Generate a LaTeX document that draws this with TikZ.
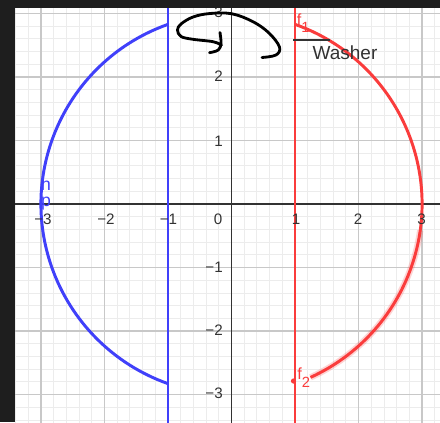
\documentclass[tikz,border=0pt]{standalone}
\usepackage{fontspec}
\setmainfont{Liberation Sans}
\definecolor{ggblue}{RGB}{64,64,250}
\definecolor{ggred}{RGB}{250,60,60}
\definecolor{gridminor}{RGB}{236,236,236}
\definecolor{gridmajor}{RGB}{200,200,200}
\definecolor{axisgray}{RGB}{50,50,50}
\definecolor{framedark}{RGB}{30,30,30}
\tikzset{
  minorline/.style={draw=gridminor, line width=0.6pt},
  majorline/.style={draw=gridmajor, line width=0.9pt},
  axisline/.style={draw=axisgray, line width=1.3pt},
  ticklab/.style={inner sep=0pt, text=axisgray, font=\fontsize{10.8}{12}\selectfont},
  blueline/.style={draw=ggblue, line width=2.1pt},
  redline/.style={draw=ggred, line width=2.1pt},
  scribble/.style={draw=black, line width=2pt, line cap=round, line join=round},
  graylab/.style={inner sep=0pt, text=axisgray, font=\fontsize{13.5}{15}\selectfont},
  redlab/.style={inner sep=0pt, text=ggred, font=\fontsize{11.5}{13}\selectfont},
  bluelab/.style={inner sep=0pt, text=ggblue, font=\fontsize{12.5}{13}\selectfont}
}
\begin{document}
\begin{tikzpicture}[x=0.025cm, y=-0.025cm]
\useasboundingbox (0,0) rectangle (440,422);
\fill[white] (0,0) rectangle (440,422);
\begin{scope}[shift={(231.5,204)}, x=1.5875cm, y=1.5875cm]
  % minor grid
  \foreach \i in {-17,...,16} \draw[minorline] (\i/5,-3.44) -- (\i/5,3.1);
  \foreach \j in {-17,...,15} \draw[minorline] (-3.41,\j/5) -- (3.29,\j/5);
  % major grid
  \foreach \i in {-3,...,3} \draw[majorline] (\i,-3.44) -- (\i,3.1);
  \foreach \j in {-3,...,3} \draw[majorline] (-3.41,\j) -- (3.29,\j);
  % axes
  \draw[axisline] (-3.41,0) -- (3.29,0);
  \draw[axisline] (0,-3.44) -- (0,3.1);
  % blue
  \draw[blueline] (-1,-3.44) -- (-1,3.1);
  \draw[blueline] (109.47:3) arc[start angle=109.47, end angle=250.53, radius=3];
  % red
  \draw[draw=ggred, opacity=0.22, line width=4.5pt] (-8:3) arc[start angle=-8, end angle=-65.5, radius=3];
  \draw[redline] (1,-3.44) -- (1,3.1);
  \draw[redline] (70.53:3) arc[start angle=70.53, end angle=-65.5, radius=3];
\end{scope}
% red point
\fill[ggred] (293.5,381) circle (2.6);
% washer segment
\coordinate (w1) at (293,40);
\coordinate (w2) at (330,40);
\draw[draw=axisgray, line width=1.5pt] (w1) -- (w2);
\node[graylab] (washer) at (345,52.5) {Washer};
% labels on curves
\node[redlab, anchor=base west] (f1) at (296.5,25) {f\raisebox{-5.5pt}{\fontsize{10.5}{11}\selectfont 1}};
\node[redlab, anchor=base west] (f2) at (297,379.5) {f\raisebox{-5.5pt}{\fontsize{10.5}{11}\selectfont 2}};
\node[bluelab, anchor=base] (h) at (46,190) {h};
\node[bluelab, anchor=base] (p) at (46,206) {p};
% x tick labels
\node[ticklab] (xm3) at (43,219) {−3};
\node[ticklab] (xm2) at (106,219) {−2};
\node[ticklab] (xm1) at (168.5,219) {−1};
\node[ticklab] (x0) at (218,219) {0};
\node[ticklab] (x1) at (296,219) {1};
\node[ticklab] (x2) at (358,219) {2};
\node[ticklab] (x3) at (421.5,219) {3};
% y tick labels
\node[ticklab, anchor=east] (y3) at (223,12) {3};
\node[ticklab, anchor=east] (y2) at (223,76) {2};
\node[ticklab, anchor=east] (y1) at (223,141) {1};
\node[ticklab, anchor=east] (ym1) at (223,267) {−1};
\node[ticklab, anchor=east] (ym2) at (223,330) {−2};
\node[ticklab, anchor=east] (ym3) at (223,393.5) {−3};
% handwritten scribble
\draw[scribble] plot[smooth, tension=0.6] coordinates {(221.5,45) (213,41.7) (193,39.3) (181,36.5) (177.5,30) (181,24) (193,17) (210,13.5) (232,13.8) (253,21.7) (269,33) (279.5,47) (276,55) (262,57.5)};
\draw[scribble] plot[smooth, tension=0.6] coordinates {(220,32.5) (221,43.3) (218.3,50) (209.5,52.7)};
% dark frame
\fill[framedark] (0,0) rectangle (15,422);
\fill[framedark] (0,0) rectangle (440,8);
\end{tikzpicture}
\end{document}
